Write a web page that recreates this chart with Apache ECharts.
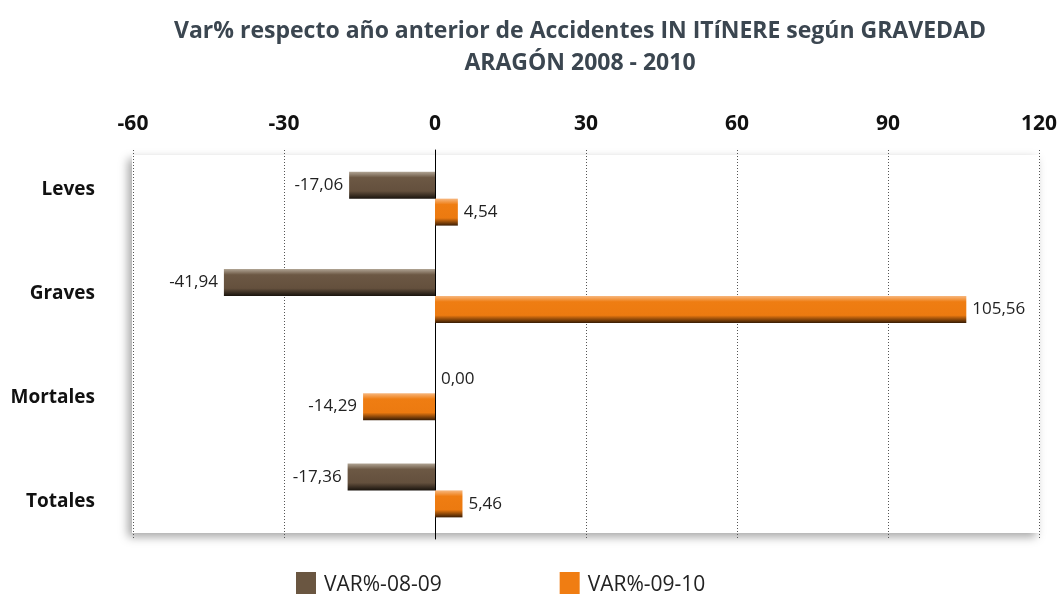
<!DOCTYPE html>
<html>
<head>
<meta charset="utf-8">
<script src="https://cdn.jsdelivr.net/npm/echarts@6/dist/echarts.min.js"></script>
<style>html,body{margin:0;padding:0;background:#fff}#c{width:1060px;height:594px}</style>
</head>
<body>
<div id="c"></div>
<script>
const categories = ['Leves', 'Graves', 'Mortales', 'Totales'];
const seriesNames = ['VAR%-08-09', 'VAR%-09-10'];
const seriesColors = ['#6a5641', '#f07d12'];
const var0809 = [-17.06, -41.94, 0.00, -17.36];
const var0910 = [4.54, 105.56, -14.29, 5.46];
const titleLines = ['Var% respecto año anterior de Accidentes IN ITíNERE según GRAVEDAD', 'ARAGÓN 2008 - 2010'];

const FONT = '"Open Sans", Lato, sans-serif';
function grad(c0, c1, c2, c3) {
  return { type: 'linear', x: 0, y: 0, x2: 0, y2: 1, colorStops: [
    { offset: 0, color: c0 }, { offset: 0.22, color: c1 }, { offset: 0.72, color: c2 }, { offset: 1, color: c3 }
  ]};
}
const fmt = p => p.value.toFixed(2).replace('.', ',');
const withLabelSide = arr => arr.map(v => ({ value: v, label: { position: v < 0 ? 'left' : 'right' } }));
const labelStyle = { show: true, distance: 6, formatter: fmt, fontFamily: FONT, fontSize: 17, color: '#222' };

const chart = echarts.init(document.getElementById('c'), null, { renderer: 'canvas' });
chart.setOption({
  animation: false,
  backgroundColor: '#fff',
  title: {
    text: titleLines.join('\n'),
    left: 575, top: 10, textAlign: 'center',
    textStyle: { fontFamily: FONT, fontWeight: 'bold', fontSize: 23, color: '#3b4650', lineHeight: 32 }
  },
  graphic: [{
    type: 'rect', z: -10, silent: true,
    shape: { x: 132, y: 155, width: 908, height: 378 },
    style: { fill: '#fff', shadowBlur: 9, shadowOffsetX: -4, shadowOffsetY: 4, shadowColor: 'rgba(0,0,0,0.35)' }
  }],
  legend: {
    left: 291, top: 567, itemWidth: 20, itemHeight: 26, itemGap: 118,
    icon: 'rect',
    data: seriesNames.map((n, i) => ({ name: n, itemStyle: { color: seriesColors[i] } })),
    textStyle: { fontFamily: FONT, fontSize: 21, color: '#222', padding: [0, 0, 0, 3] }
  },
  grid: [
    { left: 133, right: 20, top: 150, height: 389 },
    { left: 133, right: 20, top: 138, height: 416 }
  ],
  xAxis: [{
    type: 'value', gridIndex: 0, position: 'top', min: -60, max: 120, interval: 30,
    axisLine: { show: false }, axisTick: { show: false },
    axisLabel: { fontFamily: FONT, fontWeight: 'bold', fontSize: 21, color: '#111', margin: 15 },
    splitLine: { show: true, lineStyle: { type: [1, 2], color: '#555', width: 1 } }
  }, {
    type: 'value', gridIndex: 1, min: -60, max: 120, interval: 30, show: false
  }],
  yAxis: [{
    type: 'category', gridIndex: 0, data: categories, inverse: true,
    axisLine: { show: true, onZero: true, lineStyle: { color: '#000', width: 1 } },
    axisTick: { show: false }, axisLabel: { show: false }
  }, {
    type: 'category', gridIndex: 1, data: categories, inverse: true,
    axisLine: { show: false }, axisTick: { show: false }, splitLine: { show: false },
    axisLabel: { fontFamily: FONT, fontWeight: 'bold', fontSize: 19, color: '#111', margin: 38 }
  }],
  series: [
    {
      name: seriesNames[0], type: 'bar', data: withLabelSide(var0809), barWidth: 27, barGap: '0%',
      itemStyle: { color: grad('#b2a696', '#6c5844', '#64503d', '#1a140e') },
      label: labelStyle
    },
    {
      name: seriesNames[1], type: 'bar', data: withLabelSide(var0910), barWidth: 27, barGap: '0%',
      itemStyle: { color: grad('#f7b880', '#ef7d12', '#ec7a10', '#3a1d04') },
      label: labelStyle
    }
  ]
});
</script>
</body>
</html>
